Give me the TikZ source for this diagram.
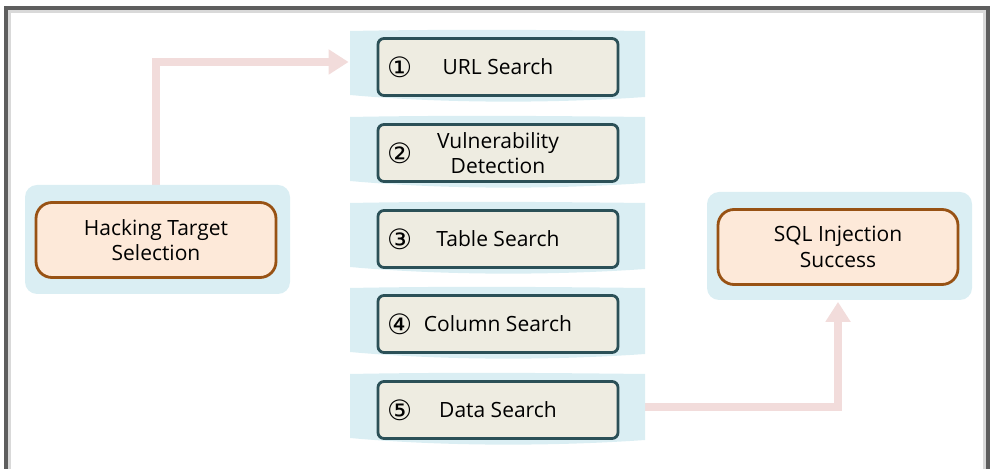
\documentclass[tikz,border=0pt]{standalone}
\usepackage{fontspec}
\setmainfont{Open Sans}
\newfontfamily\circfont{DejaVu Sans}
\usetikzlibrary{arrows.meta,backgrounds}
\definecolor{bandblue}{HTML}{DAEEF3}
\definecolor{boxtan}{HTML}{EEECE1}
\definecolor{boxteal}{HTML}{2B5057}
\definecolor{boxpeach}{HTML}{FDE9D9}
\definecolor{boxbrown}{HTML}{985214}
\definecolor{flowpink}{HTML}{F2DCDB}
\definecolor{framegray}{HTML}{5E5E5E}

\begin{document}
\begin{tikzpicture}[x=0.5pt,y=-0.5pt,
  stepbox/.style={draw=boxteal,line width=1.4pt,fill=boxtan,rounded corners=3pt,
    minimum width=120pt,minimum height=28.5pt,inner sep=0pt,align=center,
    font=\fontsize{10.5}{12.6}\selectfont},
  endbox/.style={draw=boxbrown,line width=1.4pt,fill=boxpeach,rounded corners=8pt,
    minimum width=120pt,minimum height=37.5pt,inner sep=0pt,align=center,
    font=\fontsize{10.5}{12.8}\selectfont},
  num/.style={inner sep=0pt,font=\circfont\fontsize{14}{14}\selectfont},
  band/.style={fill=bandblue},
  flow/.style={draw=flowpink,line width=4pt,-{Triangle[width=12pt,length=10pt]}}]
  \useasboundingbox (0,0) rectangle (995,469);
  \clip (0,0) rectangle (995,469);

  % frame
  \draw[line width=1.8pt,framegray] (6,8) rectangle (988,490);
  \draw[line width=1.2pt,black!15] (9.5,11.5) rectangle (984.5,490);

  % boxes
  \node[endbox] (target) at (156,240) {Hacking Target\\Selection};
  \node[endbox] (success) at (838,247) {SQL Injection\\Success};
  \foreach \y/\n/\txt [count=\i] in {67/①/URL Search,153/②/{Vulnerability\\Detection},
      239/③/Table Search,324/④/Column Search,410/⑤/Data Search}{
    \node[stepbox] (s\i) at (498,\y) {\txt};
    \node[num] (n\i) at ([xshift=11.5pt]s\i.west) {\n};
  }

  \begin{scope}[on background layer]
    % arrows
    \draw[flow] (target.center) |- ([xshift=-14pt,yshift=2.5pt]s1.west);
    \draw[flow] ([yshift=1.5pt]s5.east) -| ([yshift=-8pt]success.south);
    % bands
    \fill[band,rounded corners=6pt] (25,185) rectangle (290,294);
    \fill[band,rounded corners=6pt] (707,192) rectangle (972,300);
    \foreach \y in {67,153,239,324,410}
      \fill[band] (350,\y-36) .. controls (450,\y-38) and (560,\y-37) .. (645,\y-36)
        -- (645,\y+30) .. controls (560,\y+36) and (450,\y+37) .. (350,\y+28) -- cycle;
  \end{scope}
\end{tikzpicture}
\end{document}
